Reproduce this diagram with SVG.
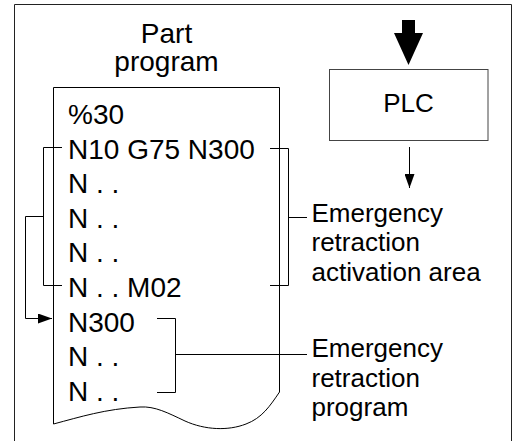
<svg xmlns="http://www.w3.org/2000/svg" width="515" height="441" viewBox="0 0 515 441">
<style>
.t{font-family:"Liberation Sans",Arial,Helvetica,sans-serif;fill:#000}
.p{font-size:28px}
.l{font-size:26px}
.ln{fill:none;stroke:#000;stroke-width:1}
</style>
<defs>
<marker id="ah" markerWidth="14" markerHeight="10" refX="14" refY="5" orient="auto" markerUnits="userSpaceOnUse">
<path d="M0,0 L14,5 L0,10 Z" fill="#000"/>
</marker>
</defs>
<rect x="0" y="0" width="515" height="441" fill="#fff"/>
<g id="frame">
<path d="M14.5,442 V4.5 H511.5 V442" fill="none" stroke="#222" stroke-width="1"/>
</g>
<g id="title">
<text class="t p" x="166.5" y="43" text-anchor="middle">Part</text>
<text class="t p" x="166.5" y="71" text-anchor="middle">program</text>
</g>
<g id="part-program">
<path d="M53.5,87.5 H279.5 V392 C270,406 262,418 246,424 C228,431 205,430 185,421 C168,413 155,406 140,407 C105,409 80,417 53.5,424 Z" fill="#fff" stroke="#000" stroke-width="1"/>
<text class="t p" x="68" y="124">%30</text>
<text class="t p" x="68" y="158.6">N10 G75 N300</text>
<text class="t p" x="68" y="193.2">N . .</text>
<text class="t p" x="68" y="227.8">N . .</text>
<text class="t p" x="68" y="262.4">N . .</text>
<text class="t p" x="68" y="297">N . . M02</text>
<text class="t p" x="68" y="331.6">N300</text>
<text class="t p" x="68" y="366.2">N . .</text>
<text class="t p" x="68" y="400.8">N . .</text>
</g>
<g id="plc">
<rect x="329.5" y="69.5" width="158.5" height="71" fill="#fff" stroke="#444" stroke-width="1"/>
<text class="t l" x="408.5" y="112" text-anchor="middle">PLC</text>
</g>
<g id="label-activation">
<text class="t l" x="311.5" y="221.5">Emergency</text>
<text class="t l" x="311.5" y="251">retraction</text>
<text class="t l" x="311.5" y="280.5">activation area</text>
</g>
<g id="label-program">
<text class="t l" x="311.5" y="357">Emergency</text>
<text class="t l" x="311.5" y="386.5">retraction</text>
<text class="t l" x="311.5" y="416">program</text>
</g>
<g id="connectors">
<path d="M402,20 H415 V33 H423 L408.5,65 L394,33 H402 Z" fill="#000"/>
<path class="ln" d="M409.5,147 V188" marker-end="url(#ah)"/>
<path class="ln" d="M270,148.5 H288.5 V285.5 H270"/>
<path class="ln" d="M288.5,217.5 H307"/>
<path class="ln" d="M62,147.5 H43.5 V285.5 H62"/>
<path class="ln" d="M43.5,216.5 H25.5 V318.5 H52" marker-end="url(#ah)"/>
<path class="ln" d="M157,318.5 H175.5 V392.5 H157"/>
<path class="ln" d="M175.5,354.5 H307"/>
</g>
</svg>
